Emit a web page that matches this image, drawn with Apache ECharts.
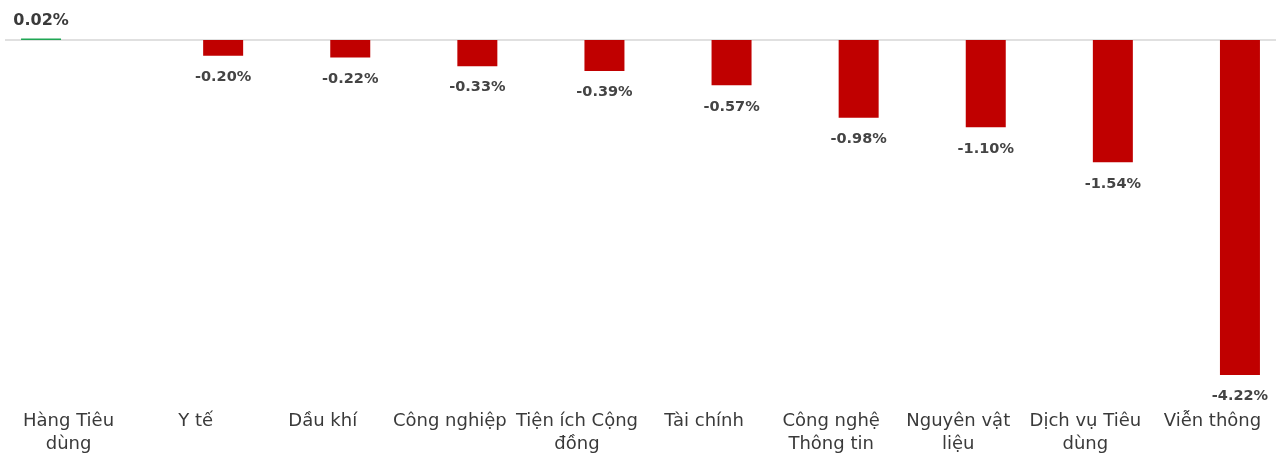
<!DOCTYPE html>
<html><head><meta charset="utf-8">
<script src="https://cdn.jsdelivr.net/npm/echarts@6/dist/echarts.min.js"></script>
<style>html,body{margin:0;padding:0;background:#fff}#c{width:1276px;height:456px}</style>
</head><body><div id="c"></div>
<script>
const categories = ["Hàng Tiêu dùng","Y tế","Dầu khí","Công nghiệp","Tiện ích Cộng đồng","Tài chính","Công nghệ Thông tin","Nguyên vật liệu","Dịch vụ Tiêu dùng","Viễn thông"];
const tickLabels = ["Hàng Tiêu\ndùng","Y tế","Dầu khí","Công nghiệp","Tiện ích Cộng\nđồng","Tài chính","Công nghệ\nThông tin","Nguyên vật\nliệu","Dịch vụ Tiêu\ndùng","Viễn thông"];
const values = [0.02,-0.20,-0.22,-0.33,-0.39,-0.57,-0.98,-1.10,-1.54,-4.22];

const pos = values.map(v => v >= 0 ? v : '-');
const neg = values.map(v => v < 0 ? v : '-');
const FONT = '"DejaVu Sans", "Open Sans", sans-serif';
const chart = echarts.init(document.getElementById('c'));
chart.setOption({
  animation: false,
  textStyle: {fontFamily: FONT},
  grid: {left: 5, right: 0, top: 38.4, bottom: 81, containLabel: false},
  xAxis: {
    type: 'category', data: categories,
    axisLine: {show: false}, axisTick: {show: false},
    axisLabel: {
      interval: 0, margin: 35, fontSize: 18, lineHeight: 23, color: '#3a3a3a', fontFamily: FONT,
      formatter: (v, i) => tickLabels[i]
    }
  },
  yAxis: {
    type: 'value', min: -4.22, max: 0.02,
    axisLine: {show: false}, axisTick: {show: false}, axisLabel: {show: false}, splitLine: {show: false}
  },
  series: [
    {
      type: 'bar', data: pos, barWidth: 40, barGap: '37.5%', barMinHeight: 3, z: 5,
      itemStyle: {color: '#1fa654'},
      label: {show: true, position: 'top', distance: 10, fontSize: 16, fontWeight: 'bold', color: '#3a3a3a', fontFamily: FONT,
        formatter: p => p.value.toFixed(2) + '%'}
    },
    {
      type: 'bar', data: neg, barWidth: 40,
      itemStyle: {color: '#c00000'},
      label: {show: true, position: 'bottom', distance: 14, fontSize: 14.5, fontWeight: 'bold', color: '#444', fontFamily: FONT,
        formatter: p => p.value.toFixed(2) + '%'},
      markLine: {
        silent: true, symbol: 'none', label: {show: false}, z: 1,
        lineStyle: {color: '#d6d6d6', type: 'solid', width: 1.5},
        data: [{yAxis: 0}]
      }
    }
  ]
});
</script></body></html>
